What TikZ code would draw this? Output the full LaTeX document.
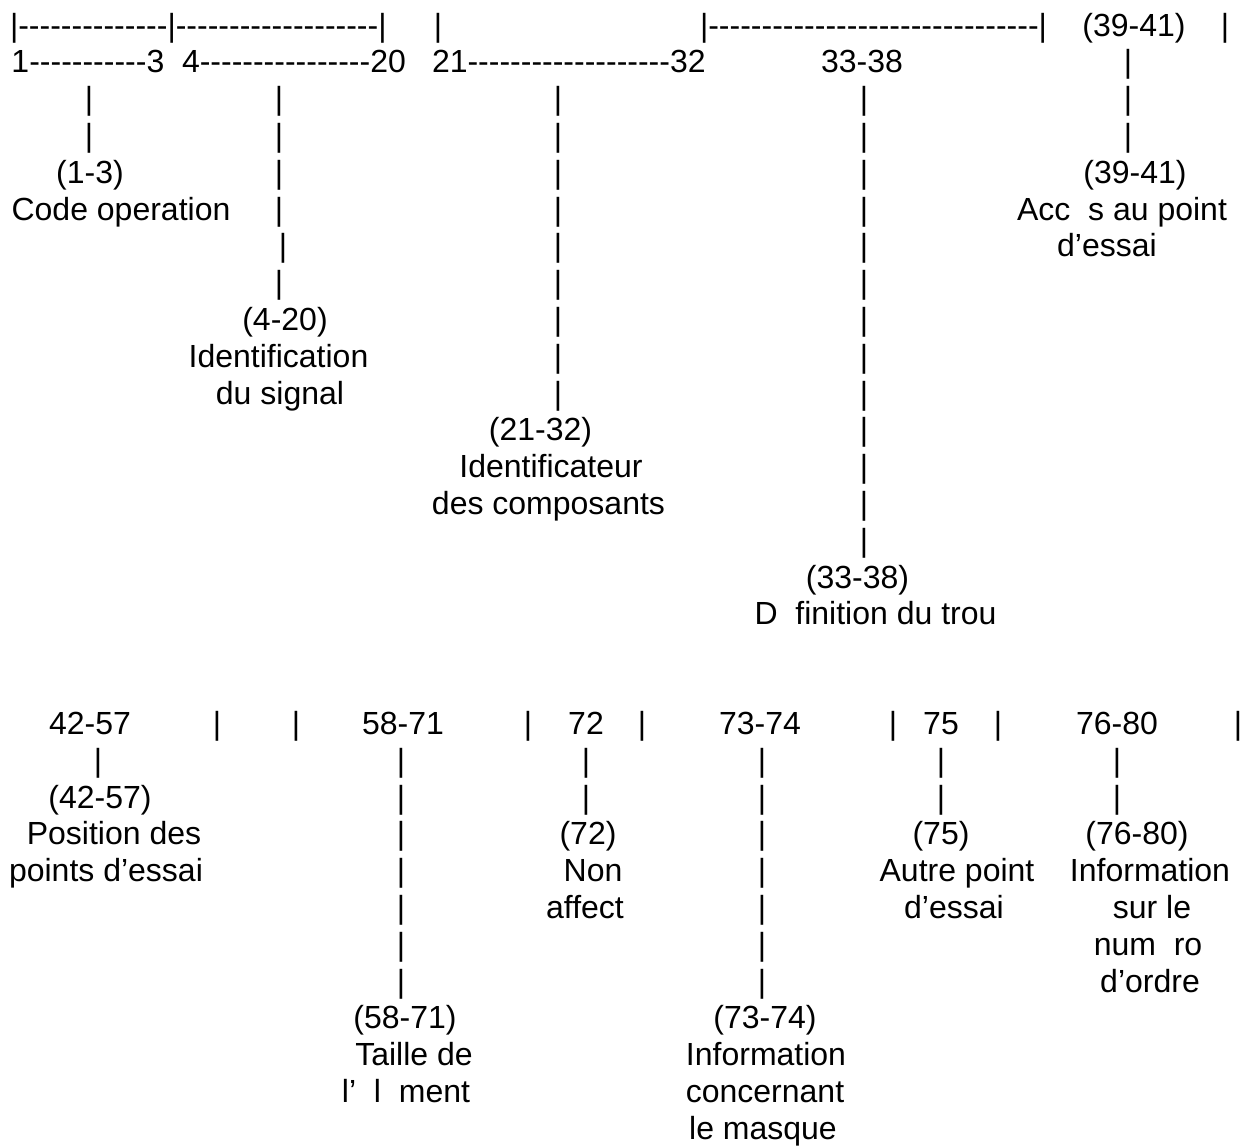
\documentclass[tikz,border=0pt]{standalone}
\usepackage{fontspec}
\newfontfamily\lib{Liberation Sans}
\newcommand\rowT[1]{36+36.8*(#1)}
\newcommand\rowB[1]{734.5+36.8*(#1)}
\begin{document}
\begin{tikzpicture}[x=1pt,y=-1pt,
  txt/.style={inner sep=0pt,outer sep=0pt,anchor=base,font=\lib\fontsize{32}{36.8}\selectfont},
  txtw/.style={txt,anchor=base west}]
\fill[white] (0,0) rectangle (1245,1146);
\useasboundingbox (0,0) rectangle (1245,1146);
% ---------- top section ----------
\node[txtw] (t0a) at (10,{\rowT{0}}) {|--------------|-------------------|};
\node[txt]  (t0b) at (438,{\rowT{0}}) {|};
\node[txtw] (t0c) at (700,{\rowT{0}}) {|-------------------------------|};
\node[txt]  (t0d) at (1134,{\rowT{0}}) {(39-41)};
\node[txt]  (t0e) at (1225,{\rowT{0}}) {|};
\node[txtw] (t1a) at (11.5,{\rowT{1}}) {1-----------3};
\node[txtw] (t1b) at (182,{\rowT{1}}) {4----------------20};
\node[txtw] (t1c) at (432,{\rowT{1}}) {21-------------------32};
\node[txt]  (t1d) at (862,{\rowT{1}}) {33-38};
% bars
\foreach \k in {2,3} \node[txt] (ba\k) at (89,{\rowT{\k}}) {|};
\foreach \k in {2,3,4,5,7} \node[txt] (bb\k) at (279,{\rowT{\k}}) {|};
\node[txt] (bb6) at (283,{\rowT{6}}) {|};
\foreach \k in {2,...,10} \node[txt] (bc\k) at (558,{\rowT{\k}}) {|};
\foreach \k in {2,...,14} \node[txt] (bd\k) at (864,{\rowT{\k}}) {|};
\foreach \k in {1,2,3} \node[txt] (be\k) at (1128,{\rowT{\k}}) {|};
% labels
\node[txt] (la1) at (90,{\rowT{4}}) {(1-3)};
\node[txt] (la2) at (121,{\rowT{5}}) {Code operation};
\node[txt] (lb1) at (285,{\rowT{8}}) {(4-20)};
\node[txt] (lb2) at (278.5,{\rowT{9}}) {Identification};
\node[txt] (lb3) at (280,{\rowT{10}}) {du signal};
\node[txt] (lc1) at (540.5,{\rowT{11}}) {(21-32)};
\node[txt] (lc2) at (551,{\rowT{12}}) {Identificateur};
\node[txt] (lc3) at (548.5,{\rowT{13}}) {des composants};
\node[txt] (ld1) at (857.5,{\rowT{15}}) {(33-38)};
\node[txt] (ld2) at (875.5,{\rowT{16}}) {D\phantom{é}finition du trou};
\node[txt] (le1) at (1135,{\rowT{4}}) {(39-41)};
\node[txt] (le2) at (1122,{\rowT{5}}) {Acc\phantom{è}s au point};
\node[txt] (le3) at (1107,{\rowT{6}}) {d’essai};
% ---------- bottom section ----------
\node[txt] (u0a) at (90,{\rowB{0}}) {42-57};
\node[txt] (u0b) at (217,{\rowB{0}}) {|};
\node[txt] (u0c) at (296,{\rowB{0}}) {|};
\node[txt] (u0d) at (403,{\rowB{0}}) {58-71};
\node[txt] (u0e) at (528,{\rowB{0}}) {|};
\node[txt] (u0f) at (586,{\rowB{0}}) {72};
\node[txt] (u0g) at (642,{\rowB{0}}) {|};
\node[txt] (u0h) at (760,{\rowB{0}}) {73-74};
\node[txt] (u0i) at (893,{\rowB{0}}) {|};
\node[txt] (u0j) at (941,{\rowB{0}}) {75};
\node[txt] (u0k) at (998,{\rowB{0}}) {|};
\node[txt] (u0l) at (1117,{\rowB{0}}) {76-80};
\node[txt] (u0m) at (1238,{\rowB{0}}) {|};
% bars
\node[txt] (ca1) at (98,{\rowB{1}}) {|};
\foreach \k in {1,...,7} \node[txt] (cb\k) at (401,{\rowB{\k}}) {|};
\foreach \k in {1,2} \node[txt] (cc\k) at (586,{\rowB{\k}}) {|};
\foreach \k in {1,...,7} \node[txt] (cd\k) at (762,{\rowB{\k}}) {|};
\foreach \k in {1,2} \node[txt] (ce\k) at (941,{\rowB{\k}}) {|};
\foreach \k in {1,2} \node[txt] (cf\k) at (1117,{\rowB{\k}}) {|};
% labels
\node[txt] (ma1) at (100,{\rowB{2}}) {(42-57)};
\node[txt] (ma2) at (114,{\rowB{3}}) {Position des};
\node[txt] (ma3) at (106,{\rowB{4}}) {points d’essai};
\node[txt] (mb1) at (405,{\rowB{8}}) {(58-71)};
\node[txt] (mb2) at (414,{\rowB{9}}) {Taille de};
\node[txt] (mb3) at (406,{\rowB{10}}) {l’\phantom{é}l\phantom{é}ment};
\node[txt] (mc1) at (588,{\rowB{3}}) {(72)};
\node[txt] (mc2) at (593,{\rowB{4}}) {Non};
\node[txt] (mc3) at (585,{\rowB{5}}) {affect};
\node[txt] (md1) at (765,{\rowB{8}}) {(73-74)};
\node[txt] (md2) at (766,{\rowB{9}}) {Information};
\node[txt] (md3) at (765,{\rowB{10}}) {concernant};
\node[txt] (md4) at (763,{\rowB{11}}) {le masque};
\node[txt] (me1) at (941,{\rowB{3}}) {(75)};
\node[txt] (me2) at (957,{\rowB{4}}) {Autre point};
\node[txt] (me3) at (954,{\rowB{5}}) {d’essai};
\node[txt] (mf1) at (1137,{\rowB{3}}) {(76-80)};
\node[txt] (mf2) at (1150,{\rowB{4}}) {Information};
\node[txt] (mf3) at (1152,{\rowB{5}}) {sur le};
\node[txt] (mf4) at (1148,{\rowB{6}}) {num\phantom{é}ro};
\node[txt] (mf5) at (1150,{\rowB{7}}) {d’ordre};
\end{tikzpicture}
\end{document}
